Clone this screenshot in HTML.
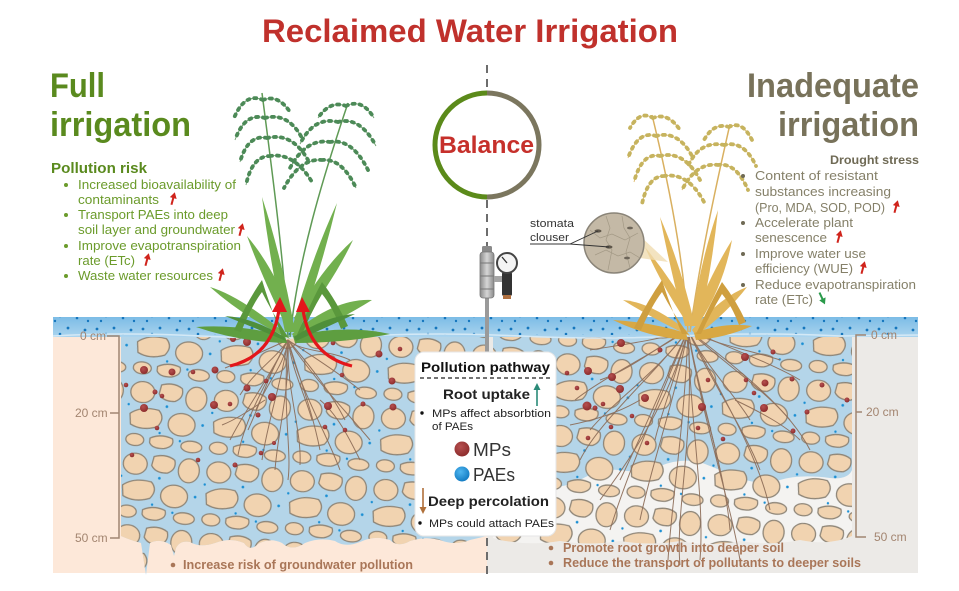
<!DOCTYPE html>
<html><head><meta charset="utf-8">
<style>
html,body{margin:0;padding:0;background:#fff;}
svg{display:block;}
text{font-family:"Liberation Sans",Arial,sans-serif;}
</style></head><body>
<svg width="959" height="591" viewBox="0 0 959 591" xmlns="http://www.w3.org/2000/svg">
<defs>
<pattern id="peb" width="56" height="48" patternUnits="userSpaceOnUse" patternTransform="rotate(6) scale(1.5)">
 <g fill="#f1d3b0" stroke="#8d8476" stroke-width="0.85">
  <ellipse cx="10" cy="10" rx="8" ry="7"/>
  <path d="M22,4 Q30,1 36,5 Q38,11 32,14 Q24,15 21,10 Z"/>
  <ellipse cx="46" cy="11" rx="7" ry="8"/>
  <path d="M3,25 Q10,19 22,21 Q27,26 22,32 Q12,36 4,32 Z"/>
  <ellipse cx="38" cy="29" rx="9" ry="7.5"/>
  <ellipse cx="8" cy="42" rx="6" ry="4"/>
  <path d="M18,40 Q25,36 33,39 Q35,44 28,46 Q20,47 18,43 Z"/>
  <ellipse cx="46" cy="43" rx="7" ry="3.8"/>
 </g>
 <g fill="#1b8fd3">
  <circle cx="27" cy="18" r="0.9"/><circle cx="52" cy="28" r="0.9"/><circle cx="24" cy="36" r="0.8"/><circle cx="1.5" cy="19" r="0.8"/><circle cx="38" cy="40" r="0.8"/>
 </g>
</pattern>
<pattern id="wdots" width="46" height="18" patternUnits="userSpaceOnUse">
 <g fill="#1576bd">
  <circle cx="5" cy="5" r="1.4"/><circle cx="14" cy="10" r="1.3"/><circle cx="22" cy="4" r="1.4"/><circle cx="31" cy="12" r="1.3"/><circle cx="39" cy="6" r="1.4"/><circle cx="9" cy="15" r="1.2"/><circle cx="42" cy="15" r="1.2"/>
 </g>
</pattern>
<linearGradient id="wg" x1="0" y1="0" x2="0" y2="1"><stop offset="0" stop-color="#7cbce6"/><stop offset="1" stop-color="#abd4ee"/></linearGradient>
<linearGradient id="vg" x1="0" y1="0" x2="1" y2="0"><stop offset="0" stop-color="#8a8a8a"/><stop offset="0.5" stop-color="#d6d6d6"/><stop offset="1" stop-color="#8a8a8a"/></linearGradient>
<radialGradient id="mpg" cx="0.4" cy="0.35" r="0.7"><stop offset="0" stop-color="#b65050"/><stop offset="1" stop-color="#8a2a2a"/></radialGradient>
<radialGradient id="pag" cx="0.4" cy="0.35" r="0.7"><stop offset="0" stop-color="#4fb6f0"/><stop offset="1" stop-color="#0f78c0"/></radialGradient>
<clipPath id="lclip"><path d="M121,337 H487 V536 L470,540 Q455,546 440,540 Q425,536 410,541 Q398,548 390,540 Q375,535 360,542 Q345,548 335,541 Q320,537 305,543 Q292,552 282,543 Q270,537 258,544 Q250,552 244,543 Q230,537 215,543 Q200,548 190,542 Q180,540 176,548 L174,556 L171,545 Q160,538 150,543 L146,575 L141,543 Q130,540 121,536 Z"/></clipPath>
<clipPath id="rclip"><path d="M493,337 H852 V536 Q830,546 800,540 Q770,546 740,541 Q710,547 680,541 Q650,546 620,541 Q590,546 560,541 Q530,546 500,540 L493,538 Z"/></clipPath>
</defs>

<!-- panels -->
<rect x="53" y="330" width="434" height="243" fill="#fde8d9"/>
<rect x="487" y="330" width="431" height="243" fill="#eceae7"/>

<!-- left soil -->
<g clip-path="url(#lclip)">
 <rect x="100" y="330" width="400" height="250" fill="#b4d5e9"/>
 <rect x="100" y="330" width="400" height="250" fill="url(#peb)"/>
</g>
<!-- right soil -->
<g clip-path="url(#rclip)">
 <rect x="490" y="330" width="370" height="250" fill="#f4f3f1"/>
 <path d="M493,337 H852 V470 Q848,480 830,478 Q800,474 780,480 Q760,486 740,478 Q720,470 700,462 Q680,458 660,466 Q640,474 620,470 Q600,468 580,480 Q560,490 540,486 Q515,482 493,490 Z" fill="#b4d5e9"/>
 <rect x="490" y="330" width="370" height="250" fill="url(#peb)"/>
</g>

<!-- roots left -->
<g fill="none" stroke="#8b6a55" stroke-width="1" opacity="0.9">
 <path d="M288,340 C275,360 255,370 240,395"/><path d="M288,340 C270,370 262,400 248,430"/><path d="M288,340 C282,380 268,420 262,460"/>
 <path d="M288,340 C290,390 278,430 275,470"/><path d="M288,340 C286,390 302,430 300,465"/><path d="M288,340 C300,380 312,410 320,450"/>
 <path d="M288,340 C305,360 330,390 345,420"/><path d="M288,340 C310,355 335,370 360,390"/><path d="M288,340 C265,350 245,360 225,368"/>
 <path d="M288,340 C300,352 330,350 350,360"/><path d="M288,340 C268,380 245,410 230,440"/><path d="M288,340 C300,390 325,430 340,470"/>
 <path d="M288,340 C285,365 265,385 256,410"/><path d="M288,340 C292,370 305,395 312,420"/><path d="M288,340 C262,390 245,420 238,455"/>
 <path d="M288,340 C315,380 345,410 370,440"/><path d="M288,340 C282,410 292,450 288,480"/><path d="M265,400 C250,410 235,420 222,425"/>
 <path d="M320,400 C338,415 350,440 360,460"/>
</g>
<!-- roots right -->
<g fill="none" stroke="#8b6a55" stroke-width="1" opacity="0.9">
 <path d="M688,330 C660,345 630,370 600,380"/><path d="M688,330 C660,370 615,400 590,430"/><path d="M688,330 C665,380 640,440 620,480"/>
 <path d="M688,330 C675,400 650,470 640,520"/><path d="M688,330 C685,420 672,500 668,560"/><path d="M688,330 C690,420 705,500 700,560"/>
 <path d="M688,330 C700,400 725,470 730,530"/><path d="M688,330 C710,380 745,430 760,470"/><path d="M688,330 C720,360 765,390 790,420"/>
 <path d="M688,330 C715,345 750,350 780,360"/><path d="M688,330 C660,340 620,345 590,350"/><path d="M688,330 C670,400 630,460 600,500"/>
 <path d="M688,330 C695,380 712,430 720,470"/><path d="M688,330 C705,365 735,395 750,420"/><path d="M688,330 C678,370 662,410 655,440"/>
 <path d="M688,330 C735,350 775,365 800,380"/><path d="M688,330 C650,355 600,380 575,400"/><path d="M688,330 C695,440 675,510 680,565"/>
 <path d="M688,330 C705,430 730,500 740,560"/><path d="M688,330 C655,410 625,480 610,530"/><path d="M688,330 C725,400 760,460 770,510"/>
 <path d="M688,330 C650,380 600,420 580,460"/><path d="M688,330 C740,370 790,410 810,450"/><path d="M640,400 C620,412 595,420 570,425"/>
 <path d="M735,400 C760,412 785,425 800,440"/>
</g>

<!-- MP dots -->
<g fill="url(#mpg)">
 <circle cx="233" cy="339" r="3"/><circle cx="247" cy="342" r="4"/><circle cx="144" cy="370" r="4"/><circle cx="172" cy="372" r="3.5"/>
 <circle cx="215" cy="370" r="3.5"/><circle cx="193" cy="372" r="2.3"/><circle cx="126" cy="385" r="2.3"/><circle cx="155" cy="392" r="2.5"/>
 <circle cx="162" cy="396" r="2.3"/><circle cx="144" cy="408" r="4"/><circle cx="214" cy="405" r="4"/><circle cx="230" cy="404" r="2.3"/>
 <circle cx="247" cy="388" r="3.5"/><circle cx="272" cy="397" r="4"/><circle cx="258" cy="415" r="2.5"/><circle cx="266" cy="381" r="2.3"/>
 <circle cx="157" cy="428" r="2.3"/><circle cx="132" cy="455" r="2.3"/><circle cx="198" cy="460" r="2.3"/><circle cx="235" cy="465" r="2.5"/>
 <circle cx="261" cy="453" r="2.3"/><circle cx="274" cy="443" r="2"/><circle cx="328" cy="406" r="4"/><circle cx="325" cy="427" r="2.3"/>
 <circle cx="345" cy="430" r="2.3"/><circle cx="363" cy="404" r="2.5"/><circle cx="392" cy="381" r="3.5"/><circle cx="393" cy="407" r="3.5"/>
 <circle cx="379" cy="354" r="3.5"/><circle cx="400" cy="349" r="2.3"/><circle cx="333" cy="343" r="2.3"/><circle cx="342" cy="375" r="2.3"/>
 <circle cx="621" cy="343" r="4"/><circle cx="660" cy="350" r="2.5"/><circle cx="588" cy="371" r="4"/><circle cx="612" cy="377" r="4"/>
 <circle cx="620" cy="389" r="4"/><circle cx="645" cy="398" r="4"/><circle cx="587" cy="406" r="4.5"/><circle cx="595" cy="408" r="2.5"/>
 <circle cx="603" cy="404" r="2.3"/><circle cx="567" cy="373" r="2.3"/><circle cx="577" cy="388" r="2.3"/><circle cx="632" cy="416" r="2.3"/>
 <circle cx="611" cy="427" r="2.3"/><circle cx="588" cy="438" r="2.3"/><circle cx="647" cy="443" r="2.3"/><circle cx="702" cy="407" r="4"/>
 <circle cx="698" cy="428" r="2.3"/><circle cx="723" cy="439" r="2.3"/><circle cx="745" cy="357" r="4"/><circle cx="773" cy="352" r="2.5"/>
 <circle cx="765" cy="383" r="3.5"/><circle cx="754" cy="393" r="2.3"/><circle cx="746" cy="380" r="2.3"/><circle cx="764" cy="408" r="4"/>
 <circle cx="792" cy="379" r="2.5"/><circle cx="807" cy="412" r="2.5"/><circle cx="793" cy="431" r="2.5"/><circle cx="822" cy="385" r="2.5"/>
 <circle cx="847" cy="400" r="2.5"/><circle cx="708" cy="380" r="2.3"/>
</g>

<!-- water layer -->
<rect x="53" y="317" width="865" height="20" fill="url(#wg)"/>
<rect x="53" y="317" width="865" height="18" fill="url(#wdots)"/>
<path d="M53,336 Q120,332 200,336 T360,336 T520,336 T680,336 T840,336 L918,335" fill="none" stroke="#d4e9f6" stroke-width="1.5"/>

<!-- scales -->
<g stroke="#a08672" stroke-width="1.5" fill="none">
 <path d="M107,336 H119 V538 H110"/><path d="M110,413 H119"/>
 <path d="M866,335 H856 V537 H866"/><path d="M856,412 H862"/>
</g>
<g font-size="12" fill="#a38570">
 <text x="80" y="340">0 cm</text><text x="75" y="417">20 cm</text><text x="75" y="542">50 cm</text>
 <text x="871" y="339">0 cm</text><text x="866" y="416">20 cm</text><text x="874" y="541">50 cm</text>
</g>

<!-- center dashed line -->
<g stroke="#6d6d6d" stroke-width="2" stroke-dasharray="8 6" fill="none">
 <path d="M487,65 V93"/><path d="M487,200 V248"/><path d="M487,538 V575"/>
</g>

<!-- LEFT PLANT -->
<g fill="none" stroke="#5f9a55" stroke-width="1.5">
 <path d="M288,337 C284,260 272,170 262,93"/>
 <path d="M290,337 C298,260 322,180 348,103"/>
</g>
<path d="M263,100 Q245,92 234,118 M263,100 Q278,94 290,112 M265,118 Q245,112 235,140 M265,118 Q288,112 302,138 M267,138 Q248,134 240,162 M267,138 Q292,132 308,160 M270,156 Q252,156 246,185 M270,156 Q294,152 312,182 M346,106 Q362,98 374,118 M346,106 Q330,100 318,118 M338,122 Q360,116 376,146 M338,122 Q314,116 300,144 M330,142 Q352,138 368,170 M330,142 Q306,138 290,168 M322,160 Q342,158 356,188 M322,160 Q300,158 284,188" fill="none" stroke="#6f9f70" stroke-width="0.9"/>
<path d="M263,100 Q245,92 234,118 M263,100 Q278,94 290,112 M265,118 Q245,112 235,140 M265,118 Q288,112 302,138 M267,138 Q248,134 240,162 M267,138 Q292,132 308,160 M270,156 Q252,156 246,185 M270,156 Q294,152 312,182 M346,106 Q362,98 374,118 M346,106 Q330,100 318,118 M338,122 Q360,116 376,146 M338,122 Q314,116 300,144 M330,142 Q352,138 368,170 M330,142 Q306,138 290,168 M322,160 Q342,158 356,188 M322,160 Q300,158 284,188" fill="none" stroke="#4c8a57" stroke-width="3.8" stroke-linecap="round" stroke-dasharray="2 5"/>
<g fill="#72b04e">
 <path d="M285,332 Q270,262 262,197 Q283,262 295,332 Z"/>
 <path d="M291,332 Q310,262 337,203 Q322,266 299,332 Z"/>
 <path d="M284,322 Q260,272 247,236 Q274,268 293,318 Z"/>
 <path d="M294,318 Q322,268 353,240 Q334,280 300,324 Z"/>
 <path d="M286,334 Q240,296 210,287 Q245,318 290,339 Z"/>
 <path d="M292,334 Q335,298 372,300 Q340,320 296,340 Z"/>
 <path d="M285,336 Q240,324 196,327 Q240,342 287,343 Z" fill="#5e9e40"/>
 <path d="M293,336 Q345,324 390,334 Q345,343 295,343 Z" fill="#5e9e40"/>
 <path d="M282,337 Q268,300 262,280 Q248,300 234,330 L241,332 Q252,305 262,292 Q272,312 288,337 Z" fill="#5a983c"/>
 <path d="M296,337 Q312,300 322,282 Q336,300 348,326 L341,329 Q332,306 322,294 Q310,314 301,337 Z" fill="#5a983c"/>
 <path d="M284,337 Q255,318 225,316 Q255,328 286,341 Z" fill="#4f8f3a"/>
 <path d="M294,337 Q325,316 355,314 Q325,328 296,341 Z" fill="#4f8f3a"/>
</g>

<!-- RIGHT PLANT -->
<g fill="none" stroke="#d9b060" stroke-width="1.5">
 <path d="M688,332 C684,260 668,180 652,115"/>
 <path d="M690,332 C700,260 715,190 730,124"/>
</g>
<path d="M653,118 Q640,110 630,128 M653,118 Q668,112 680,130 M656,136 Q638,130 628,158 M656,136 Q678,130 692,156 M660,156 Q642,152 634,182 M660,156 Q684,150 700,180 M664,176 Q648,176 642,204 M664,176 Q688,172 704,202 M729,127 Q742,120 752,140 M729,127 Q714,122 704,140 M724,145 Q744,140 756,166 M724,145 Q700,140 688,166 M718,165 Q736,162 748,190 M718,165 Q696,162 682,190" fill="none" stroke="#dcb868" stroke-width="0.9"/>
<path d="M653,118 Q640,110 630,128 M653,118 Q668,112 680,130 M656,136 Q638,130 628,158 M656,136 Q678,130 692,156 M660,156 Q642,152 634,182 M660,156 Q684,150 700,180 M664,176 Q648,176 642,204 M664,176 Q688,172 704,202 M729,127 Q742,120 752,140 M729,127 Q714,122 704,140 M724,145 Q744,140 756,166 M724,145 Q700,140 688,166 M718,165 Q736,162 748,190 M718,165 Q696,162 682,190" fill="none" stroke="#c6b35e" stroke-width="3.8" stroke-linecap="round" stroke-dasharray="2 5"/>
<g fill="#e2b65a">
 <path d="M685,326 Q670,268 660,217 Q681,266 695,326 Z"/>
 <path d="M691,326 Q700,262 718,210 Q712,268 699,326 Z"/>
 <path d="M685,320 Q660,282 645,247 Q672,280 692,316 Z"/>
 <path d="M694,316 Q712,272 732,240 Q724,284 700,322 Z"/>
 <path d="M686,330 Q650,302 623,300 Q655,320 690,336 Z"/>
 <path d="M692,330 Q722,296 747,287 Q728,312 696,336 Z"/>
 <path d="M686,333 Q650,322 613,320 Q650,338 688,340 Z" fill="#d8a844"/>
 <path d="M694,333 Q725,322 752,326 Q725,338 696,340 Z" fill="#d8a844"/>
 <path d="M682,334 Q668,300 662,280 Q648,300 634,328 L641,330 Q652,305 662,292 Q672,312 688,334 Z" fill="#cf9f3f"/>
 <path d="M696,334 Q712,300 722,282 Q736,300 746,322 L739,325 Q732,306 722,294 Q710,314 701,334 Z" fill="#cf9f3f"/>
</g>

<!-- red arrows -->
<g fill="none" stroke="#e3161b" stroke-width="3.2">
 <path d="M230,366 Q272,356 279,310"/><path d="M352,366 Q310,356 303,310"/>
</g>
<g fill="#e3161b">
 <path d="M272,312 L280,297 L287,312 Z"/><path d="M296,312 L302,297 L310,312 Z"/>
</g>

<!-- balance -->
<path d="M487,93 A52,52 0 0 0 487,197" fill="none" stroke="#5b8a1a" stroke-width="5"/>
<path d="M487,93 A52,52 0 0 1 487,197" fill="none" stroke="#7b765e" stroke-width="5"/>
<text x="439" y="153" font-size="24" font-weight="bold" fill="#c6302b" textLength="95" lengthAdjust="spacingAndGlyphs">Balance</text>

<!-- valve -->
<rect x="485" y="296" width="4" height="58" fill="#9a9a9a"/>
<rect x="482" y="246" width="10" height="7" rx="1.5" fill="#8a8a8a"/>
<rect x="480" y="252" width="14" height="46" rx="3" fill="url(#vg)" stroke="#777" stroke-width="0.8"/>
<g stroke="#777" stroke-width="1"><path d="M480,263 H494"/><path d="M480,276 H494"/><path d="M480,289 H494"/></g>
<rect x="494" y="276" width="9" height="6" fill="#a5a5a5"/>
<rect x="502" y="272" width="10" height="24" rx="2" fill="#333"/>
<rect x="503" y="295" width="8" height="4" fill="#b07040"/>
<circle cx="507" cy="263" r="10" fill="#f4f4f4" stroke="#444" stroke-width="2"/>
<path d="M507,263 L502,257" stroke="#333" stroke-width="1.3"/>

<!-- stomata -->
<polygon points="640,236 668,262 640,258" fill="#f0dcb0" opacity="0.8"/>
<circle cx="614" cy="243" r="30" fill="#c4b9a6" stroke="#8a8478" stroke-width="1.5"/>
<g fill="none" stroke="#a39985" stroke-width="0.7">
 <path d="M590,230 L600,238 L612,234 L625,240 L638,233"/><path d="M595,255 L606,250 L618,256 L630,252 L640,258"/>
 <path d="M606,216 L610,228 L606,240 L612,250 L608,270"/><path d="M622,216 L624,228 L630,238 L626,252 L630,268"/>
</g>
<ellipse cx="598" cy="231" rx="3.5" ry="1.6" fill="#5e564a"/><ellipse cx="609" cy="247" rx="3.5" ry="1.6" fill="#5e564a"/>
<ellipse cx="630" cy="228" rx="3" ry="1.4" fill="#6e665a"/><ellipse cx="627" cy="258" rx="3" ry="1.4" fill="#6e665a"/>
<path d="M530,244 H570 L598,231 M570,244 L609,247" fill="none" stroke="#333" stroke-width="0.9"/>
<text x="530" y="227" font-size="11" fill="#333" textLength="44" lengthAdjust="spacingAndGlyphs">stomata</text>
<text x="530" y="241" font-size="11" fill="#333" textLength="39" lengthAdjust="spacingAndGlyphs">clouser</text>

<!-- pollution pathway box -->
<rect x="415" y="352" width="141" height="184" rx="9" fill="#ffffff" stroke="#e6e6e6" stroke-width="1"/>
<text x="421" y="372" font-size="14" font-weight="bold" fill="#111" textLength="129" lengthAdjust="spacingAndGlyphs">Pollution pathway</text>
<path d="M420,378 H552" stroke="#222" stroke-width="1.3" stroke-dasharray="4 3"/>
<text x="443" y="399" font-size="14" font-weight="bold" fill="#222" textLength="87" lengthAdjust="spacingAndGlyphs">Root uptake</text>
<path d="M537,406 V389" stroke="#2a8a78" stroke-width="1.6"/><path d="M533.5,390 L537,383 L540.5,390 Z" fill="#2a8a78"/>
<circle cx="422" cy="413" r="1.7" fill="#111"/>
<text x="432" y="417" font-size="11" fill="#222" textLength="119" lengthAdjust="spacingAndGlyphs">MPs affect absorbtion</text>
<text x="432" y="430" font-size="11" fill="#222" textLength="41" lengthAdjust="spacingAndGlyphs">of PAEs</text>
<circle cx="462" cy="449" r="7.5" fill="url(#mpg)"/>
<text x="473" y="456" font-size="18" fill="#333" textLength="38" lengthAdjust="spacingAndGlyphs">MPs</text>
<circle cx="462" cy="474" r="7.5" fill="url(#pag)"/>
<text x="473" y="481" font-size="18" fill="#333" textLength="42" lengthAdjust="spacingAndGlyphs">PAEs</text>
<path d="M423,488 V508" stroke="#b0703a" stroke-width="1.6"/><path d="M419.5,507 L423,514 L426.5,507 Z" fill="#b0703a"/>
<text x="428" y="506" font-size="14" font-weight="bold" fill="#222" textLength="121" lengthAdjust="spacingAndGlyphs">Deep percolation</text>
<circle cx="420" cy="523" r="1.7" fill="#111"/>
<text x="429" y="527" font-size="11" fill="#222" textLength="125" lengthAdjust="spacingAndGlyphs">MPs could attach PAEs</text>

<!-- title -->
<text x="262" y="42" font-size="32" font-weight="bold" fill="#c0312c" textLength="416" lengthAdjust="spacingAndGlyphs">Reclaimed Water Irrigation</text>

<!-- left heading -->
<text x="50" y="97" font-size="34" font-weight="bold" fill="#5a8a1e" textLength="55" lengthAdjust="spacingAndGlyphs">Full</text>
<text x="50" y="136" font-size="34" font-weight="bold" fill="#5a8a1e" textLength="141" lengthAdjust="spacingAndGlyphs">irrigation</text>
<text x="51" y="173" font-size="14.5" font-weight="bold" fill="#5a8a1e" textLength="96" lengthAdjust="spacingAndGlyphs">Pollution risk</text>
<g fill="#6b9b2b">
 <circle cx="66" cy="185" r="2"/><circle cx="66" cy="215" r="2"/><circle cx="66" cy="246" r="2"/><circle cx="66" cy="276" r="2"/>
</g>
<g font-size="13" fill="#6b9b2b">
 <text x="78" y="189" textLength="158" lengthAdjust="spacingAndGlyphs">Increased bioavailability of</text>
 <text x="78" y="204" textLength="81" lengthAdjust="spacingAndGlyphs">contaminants</text>
 <text x="78" y="219" textLength="150" lengthAdjust="spacingAndGlyphs">Transport PAEs into deep</text>
 <text x="78" y="234" textLength="157" lengthAdjust="spacingAndGlyphs">soil layer and groundwater</text>
 <text x="78" y="250" textLength="163" lengthAdjust="spacingAndGlyphs">Improve evapotranspiration</text>
 <text x="78" y="265" textLength="57" lengthAdjust="spacingAndGlyphs">rate (ETc)</text>
 <text x="78" y="280" textLength="135" lengthAdjust="spacingAndGlyphs">Waste water resources</text>
</g>
<g fill="#d0241c" stroke="#d0241c">
 <g transform="translate(173,199) rotate(15)"><path d="M0,6 V-2" stroke-width="2"/><path d="M-3.5,-1 L0,-7 L3.5,-1 Z" stroke="none"/></g>
 <g transform="translate(241,230) rotate(15)"><path d="M0,6 V-2" stroke-width="2"/><path d="M-3.5,-1 L0,-7 L3.5,-1 Z" stroke="none"/></g>
 <g transform="translate(147,260) rotate(15)"><path d="M0,6 V-2" stroke-width="2"/><path d="M-3.5,-1 L0,-7 L3.5,-1 Z" stroke="none"/></g>
 <g transform="translate(221,275) rotate(15)"><path d="M0,6 V-2" stroke-width="2"/><path d="M-3.5,-1 L0,-7 L3.5,-1 Z" stroke="none"/></g>
 <g transform="translate(896,207) rotate(15)"><path d="M0,6 V-2" stroke-width="2"/><path d="M-3.5,-1 L0,-7 L3.5,-1 Z" stroke="none"/></g>
 <g transform="translate(839,237) rotate(15)"><path d="M0,6 V-2" stroke-width="2"/><path d="M-3.5,-1 L0,-7 L3.5,-1 Z" stroke="none"/></g>
 <g transform="translate(863,268) rotate(15)"><path d="M0,6 V-2" stroke-width="2"/><path d="M-3.5,-1 L0,-7 L3.5,-1 Z" stroke="none"/></g>
</g>
<g transform="translate(822,298) rotate(-25)" fill="#2a9a4a" stroke="#2a9a4a"><path d="M0,-6 V2" stroke-width="2"/><path d="M-3.5,1 L0,7 L3.5,1 Z" stroke="none"/></g>

<!-- right heading -->
<text x="747" y="97" font-size="34" font-weight="bold" fill="#78725a" textLength="172" lengthAdjust="spacingAndGlyphs">Inadequate</text>
<text x="778" y="136" font-size="34" font-weight="bold" fill="#78725a" textLength="141" lengthAdjust="spacingAndGlyphs">irrigation</text>
<text x="830" y="164" font-size="12" font-weight="bold" fill="#6f6a55" textLength="89" lengthAdjust="spacingAndGlyphs">Drought stress</text>
<g fill="#6f6a55">
 <circle cx="743" cy="176" r="2"/><circle cx="743" cy="223" r="2"/><circle cx="743" cy="254" r="2"/><circle cx="743" cy="285" r="2"/>
</g>
<g font-size="13" fill="#858069">
 <text x="755" y="180" textLength="123" lengthAdjust="spacingAndGlyphs">Content of  resistant</text>
 <text x="755" y="196" textLength="136" lengthAdjust="spacingAndGlyphs">substances increasing</text>
 <text x="755" y="212" textLength="130" lengthAdjust="spacingAndGlyphs">(Pro, MDA, SOD, POD)</text>
 <text x="755" y="227" textLength="98" lengthAdjust="spacingAndGlyphs">Accelerate plant</text>
 <text x="755" y="242" textLength="72" lengthAdjust="spacingAndGlyphs">senescence</text>
 <text x="755" y="258" textLength="111" lengthAdjust="spacingAndGlyphs">Improve water use</text>
 <text x="755" y="273" textLength="98" lengthAdjust="spacingAndGlyphs">efficiency (WUE)</text>
 <text x="755" y="289" textLength="161" lengthAdjust="spacingAndGlyphs">Reduce evapotranspiration</text>
 <text x="755" y="304" textLength="58" lengthAdjust="spacingAndGlyphs">rate (ETc)</text>
</g>

<!-- bottom texts -->
<g fill="#a97658">
 <circle cx="173" cy="565" r="2.3"/><circle cx="551" cy="548" r="2.3"/><circle cx="551" cy="563" r="2.3"/>
</g>
<g font-size="12.5" font-weight="bold" fill="#a97658">
 <text x="183" y="569" textLength="230" lengthAdjust="spacingAndGlyphs">Increase risk of groundwater pollution</text>
 <text x="563" y="552" textLength="221" lengthAdjust="spacingAndGlyphs">Promote root growth into deeper soil</text>
 <text x="563" y="567" textLength="298" lengthAdjust="spacingAndGlyphs">Reduce the transport of pollutants to deeper soils</text>
</g>
</svg>
</body></html>
